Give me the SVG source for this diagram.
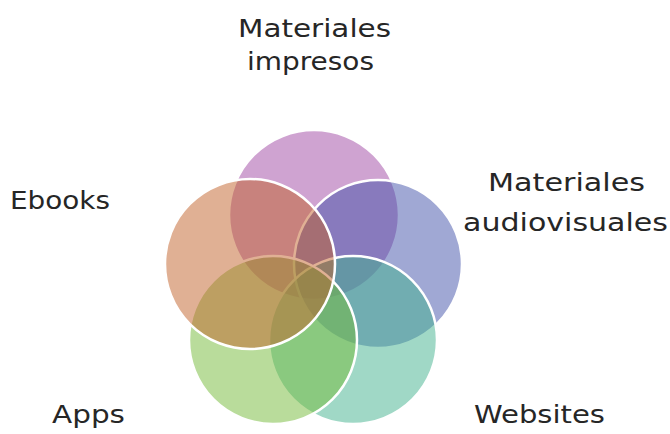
<svg xmlns="http://www.w3.org/2000/svg" width="670" height="434" viewBox="0 0 670 434">
<style>
.c{stroke:#fff;stroke-width:2.5;fill-opacity:0.5}
.t{font-family:"DejaVu Sans","Liberation Sans",sans-serif;font-size:25px;fill:#262626}
</style>
<rect width="670" height="434" fill="#fff"/>
<g id="impresos">
<circle class="c" cx="314" cy="215" r="85" fill="#9F47A3"/>
<text class="t" x="238" y="37" textLength="153" lengthAdjust="spacingAndGlyphs">Materiales</text>
<text class="t" x="247" y="70" textLength="127" lengthAdjust="spacingAndGlyphs">impresos</text>
</g>
<g id="audiovisuales">
<circle class="c" cx="378" cy="264" r="84" fill="#4151A9"/>
<text class="t" x="488" y="191" textLength="157" lengthAdjust="spacingAndGlyphs">Materiales</text>
<text class="t" x="463" y="231" textLength="205" lengthAdjust="spacingAndGlyphs">audiovisuales</text>
</g>
<g id="websites">
<circle class="c" cx="353" cy="340" r="84" fill="#41B18D"/>
<text class="t" x="474" y="423" textLength="131" lengthAdjust="spacingAndGlyphs">Websites</text>
</g>
<g id="apps">
<circle class="c" cx="273" cy="340" r="84" fill="#73B937"/>
<text class="t" x="52" y="423" textLength="73" lengthAdjust="spacingAndGlyphs">Apps</text>
</g>
<g id="ebooks">
<circle class="c" cx="250" cy="264" r="85" fill="#C16129"/>
<text class="t" x="10" y="209" textLength="100" lengthAdjust="spacingAndGlyphs">Ebooks</text>
</g>
<g id="connectors"></g>
</svg>
